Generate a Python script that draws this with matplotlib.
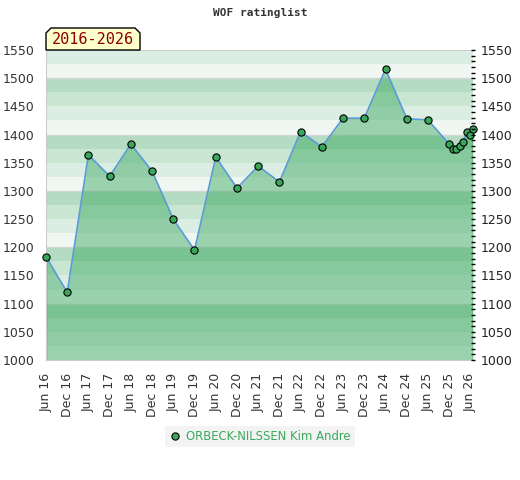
import numpy as np
import matplotlib
matplotlib.use("Agg")
import matplotlib.pyplot as plt
import matplotlib.dates as mdates
from matplotlib.patches import Polygon
from matplotlib.lines import Line2D
from matplotlib.ticker import MultipleLocator

# rating list dates and ratings
dates = ['2016-06-01', '2016-12-01', '2017-06-01', '2017-12-01', '2018-06-01',
         '2018-12-01', '2019-06-01', '2019-12-01', '2020-06-01', '2020-12-01',
         '2021-06-01', '2021-12-01', '2022-06-01', '2022-12-01', '2023-06-01',
         '2023-12-01', '2024-06-01', '2024-12-01', '2025-06-01', '2025-12-01',
         '2026-01-01', '2026-02-01', '2026-03-01', '2026-04-01', '2026-05-01',
         '2026-06-01', '2026-06-24']
ratings = [1183, 1120, 1364, 1326, 1383, 1335, 1250, 1195, 1360, 1305,
           1344, 1316, 1405, 1378, 1429, 1429, 1516, 1428, 1426, 1383,
           1374, 1374, 1380, 1386, 1405, 1399, 1410]

tick_labels = ['Jun 16', 'Dec 16', 'Jun 17', 'Dec 17', 'Jun 18', 'Dec 18', 'Jun 19',
               'Dec 19', 'Jun 20', 'Dec 20', 'Jun 21', 'Dec 21', 'Jun 22', 'Dec 22',
               'Jun 23', 'Dec 23', 'Jun 24', 'Dec 24', 'Jun 25', 'Dec 25', 'Jun 26']
tick_dates = []
for lab in tick_labels:
    m = '06' if lab.startswith('Jun') else '12'
    tick_dates.append('20' + lab[-2:] + '-' + m + '-01')

player = 'ORBECK-NILSSEN Kim Andre'
period = '2016-2026'

x = mdates.datestr2num(dates)
xt = mdates.datestr2num(tick_dates)
ymin, ymax = 1000, 1550

W, H = 520, 480
fig = plt.figure(figsize=(W / 100, H / 100), dpi=100)
ax = fig.add_axes([46 / W, 1 - 360 / H, (473 - 46) / W, 310 / H])

band_cols = {75: '#b3dcc2', 50: '#c8e6d2', 25: '#dceee3', 0: '#f0f7f2'}
for y0 in range(ymin, ymax, 25):
    ax.axhspan(y0, y0 + 25, color=band_cols[y0 % 100], lw=0, zorder=0)
for y0 in range(ymin + 100, ymax, 100):
    ax.axhline(y0, color='#d6d6d6', lw=1, zorder=0.5)

ax.fill_between(x, ratings, ymin, color='#30a458', alpha=0.44, lw=0, zorder=1)
ax.vlines([x[0], x[-1]], ymin, [ratings[0], ratings[-1]], color='#3a9a58', lw=1, zorder=1.5)
ax.plot(x, ratings, color='#5b9bd5', lw=1.2, zorder=2)
ax.plot(x, ratings, 'o', ms=5.2, mfc='#3aa65a', mec='black', mew=0.8, zorder=3,
        clip_on=False)

ax.set_xlim(x[0], x[-1])
ax.set_ylim(ymin, ymax)
ax.set_xticks(xt)
ax.set_xticklabels(tick_labels, rotation=90, fontsize=9, color='#333333')
ax.tick_params(axis='x', length=0, pad=9)

ax.yaxis.set_major_locator(MultipleLocator(50))
ax.tick_params(axis='y', left=False, right=False, length=0, labelsize=9,
               labelcolor='#333333', pad=8)

for s in ['left', 'bottom', 'top']:
    ax.spines[s].set_color('#cccccc')
ax.spines['right'].set_visible(False)

ax2 = ax.twinx()
ax2.set_ylim(ymin, ymax)
ax2.yaxis.set_major_locator(MultipleLocator(50))
ax2.yaxis.set_minor_locator(MultipleLocator(10))
ax2.tick_params(axis='y', which='both', direction='inout', length=3.5, width=1,
                color='black', labelsize=9, labelcolor='#222222', pad=4)
for s in ax2.spines.values():
    s.set_visible(False)

fig.text(0.5, 1 - 13 / H, 'WOF ratinglist', ha='center', va='center',
         family='DejaVu Sans Mono', weight='bold', fontsize=8, color='#333333')

pts = [(46, 50), (46, 33), (51, 28), (135, 28), (140, 33), (140, 50)]
box = Polygon([(px / W, 1 - py / H) for px, py in pts], closed=True,
              transform=fig.transFigure, facecolor='#ffffcc', edgecolor='black',
              lw=1, zorder=5)
fig.patches.append(box)
fig.text(93 / W, 1 - 40 / H, period, ha='center', va='center',
         family='DejaVu Sans Mono', fontsize=11, color='#8b0000', zorder=6)

handle = Line2D([], [], ls='none', marker='o', ms=5.2, mfc='#3aa65a', mec='black', mew=0.8)
leg = fig.legend([handle], [player], loc='center', bbox_to_anchor=(260 / W, 1 - 436.5 / H),
                 frameon=True, fancybox=False, facecolor='#f0f0f0', edgecolor='none',
                 fontsize=8.4, handlelength=1, handletextpad=0.5, borderpad=0.35,
                 borderaxespad=0)
for t in leg.get_texts():
    t.set_color('#3aaa5c')

fig.savefig('out.png', dpi=100)
